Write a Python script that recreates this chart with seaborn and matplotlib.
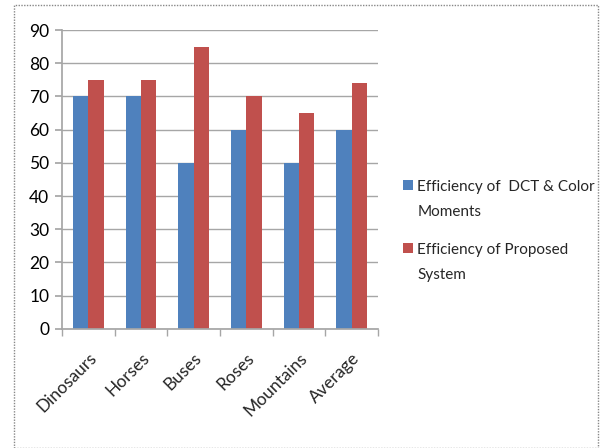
import matplotlib
matplotlib.use("Agg")
import matplotlib.pyplot as plt
import seaborn as sns
import pandas as pd
from matplotlib.patches import Rectangle

categories = ["Dinosaurs", "Horses", "Buses", "Roses", "Mountains", "Average"]
dct_color = [70, 70, 50, 60, 50, 60]
proposed = [75, 75, 85, 70, 65, 74]
series_names = ["Efficiency of  DCT & Color\nMoments", "Efficiency of Proposed\nSystem"]
yticks = [0, 10, 20, 30, 40, 50, 60, 70, 80, 90]

df = pd.DataFrame({
    "Category": categories * 2,
    "Value": dct_color + proposed,
    "Series": [series_names[0]] * len(categories) + [series_names[1]] * len(categories),
})

sns.set_theme(style="white")
plt.rcParams["font.family"] = ["Lato", "DejaVu Sans"]

fig = plt.figure(figsize=(6.01, 4.48), dpi=100)
ax = fig.add_axes([0.103, 0.266, 0.526, 0.667])

sns.barplot(data=df, x="Category", y="Value", hue="Series", order=categories,
            hue_order=series_names, palette=["#4F81BD", "#C0504D"],
            width=0.58, gap=0, saturation=1, linewidth=0, ax=ax, legend=True)

ax.set_ylim(0, 90)
ax.set_yticks(yticks)
ax.set_xlim(-0.5, len(categories) - 0.5)
ax.yaxis.grid(True, color="#A6A6A6", linewidth=1)
ax.set_axisbelow(True)
ax.set_xlabel("")
ax.set_ylabel("")
for s in ["top", "right"]:
    ax.spines[s].set_visible(False)
ax.spines["left"].set_color("#A6A6A6")
ax.spines["bottom"].set_color("#A6A6A6")
ax.tick_params(axis="y", labelsize=12.5, colors="#000000", length=5, color="#A6A6A6", left=True, pad=4)
ax.set_xticks([i - 0.5 for i in range(len(categories) + 1)], minor=True)
ax.tick_params(axis="x", which="minor", length=5, color="#A6A6A6", bottom=True)
ax.tick_params(axis="x", which="major", length=0, labelsize=12.5, pad=15)
ax.set_xticklabels(categories, rotation=45, ha="right", rotation_mode="anchor")

leg = ax.legend(loc="center left", bbox_to_anchor=(1.04, 0.328), frameon=False,
                fontsize=11, handlelength=0.65, handleheight=0.65, handletextpad=0.3,
                labelspacing=1.55, borderpad=0.3)
for t in leg.get_texts():
    t.set_linespacing(2.0)
try:
    for row in leg._legend_handle_box.get_children()[0].get_children():
        row.align = "top"
except Exception:
    pass

fig.patches.append(Rectangle((14 / 601, 0.0), 584 / 601, 1 - 5 / 448, transform=fig.transFigure,
                             fill=False, edgecolor="#888888", linewidth=1, linestyle=(0, (1, 1))))

fig.savefig("out.png", dpi=100)
